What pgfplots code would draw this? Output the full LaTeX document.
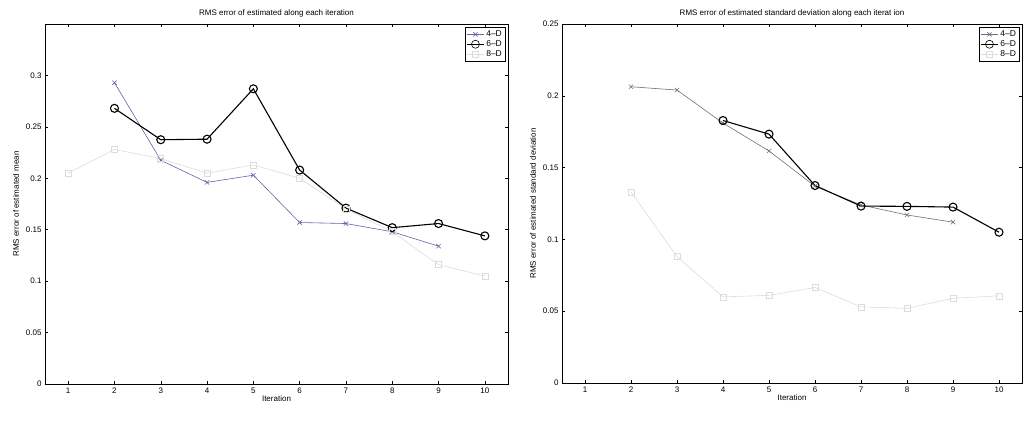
\documentclass[border=0pt]{standalone}
\usepackage{pgfplots}
\pgfplotsset{compat=1.18}
\usepackage{fontspec}
\setmainfont{Liberation Sans}
\definecolor{fourD}{RGB}{100,100,170}
\definecolor{fourDr}{RGB}{110,110,130}
\definecolor{eightD}{RGB}{220,220,220}
\pgfplotsset{
  mystyle/.style={
    scale only axis,
    xmin=0.5, xmax=10.5,
    xtick={1,...,10},
    tick align=inside,
    major tick length=3pt,
    tick style={black, line width=0.5pt},
    axis line style={black, line width=0.6pt},
    /pgf/number format/assume math mode=true,
    ticklabel style={font=\fontsize{8}{9}\selectfont},
    label style={font=\fontsize{8}{9}\selectfont},
    title style={font=\fontsize{8}{9}\selectfont, yshift=-3pt},
    xlabel={Iteration},
    xlabel style={yshift=4pt},
    ylabel style={yshift=0pt},
    legend style={font=\fontsize{8.5}{9}\selectfont, at={(0.995,0.992)}, anchor=north east, draw=black, line width=0.6pt, inner sep=1.5pt, row sep=-1.5pt},
    legend cell align=left,
    legend image post style={line width=0.6pt},
    yticklabel style={/pgf/number format/fixed, /pgf/number format/precision=2},
  }
}
\begin{document}
\begin{tikzpicture}
\useasboundingbox (0,0) rectangle (1024pt,420pt);
\begin{axis}[mystyle,
  at={(45pt,36pt)}, width=463pt, height=360pt,
  ymin=0, ymax=0.35,
  ytick={0,0.05,0.1,0.15,0.2,0.25,0.3},
  title={RMS error of estimated along each iteration},
  ylabel={RMS error of estimated mean},
]
\addplot[color=fourD, line width=0.6pt, mark=x, mark size=3pt] coordinates {
(2,0.293) (3,0.2175) (4,0.196) (5,0.203) (6,0.157) (7,0.156) (8,0.148) (9,0.134)};
\addplot[color=black, line width=1.1pt, mark=o, mark size=4pt] coordinates {
(2,0.268) (3,0.2375) (4,0.238) (5,0.287) (6,0.208) (7,0.171) (8,0.152) (9,0.156) (10,0.144)};
\addplot[color=eightD, line width=0.6pt, mark=square, mark size=3pt] coordinates {
(1,0.205) (2,0.228) (3,0.219) (4,0.205) (5,0.213) (6,0.200) (7,0.170) (8,0.148) (9,0.116) (10,0.105)};
\legend{4--D,6--D,8--D}
\end{axis}
\begin{axis}[mystyle,
  at={(562pt,37pt)}, width=460pt, height=359pt,
  ymin=0, ymax=0.25,
  ytick={0,0.05,0.1,0.15,0.2,0.25},
  title={RMS error of estimated standard deviation along each iterat ion},
  ylabel={RMS error of estimated standard deviation},
]
\addplot[color=fourDr, line width=0.6pt, mark=x, mark size=3pt] coordinates {
(2,0.2063) (3,0.204) (4,0.181) (5,0.1616) (6,0.137) (7,0.124) (8,0.117) (9,0.112)};
\addplot[color=black, line width=1.1pt, mark=o, mark size=4pt] coordinates {
(4,0.1828) (5,0.1733) (6,0.1375) (7,0.1232) (8,0.123) (9,0.1225) (10,0.105)};
\addplot[color=eightD, line width=0.6pt, mark=square, mark size=3pt] coordinates {
(2,0.133) (3,0.088) (4,0.060) (5,0.061) (6,0.0665) (7,0.053) (8,0.052) (9,0.059) (10,0.0607)};
\legend{4--D,6--D,8--D}
\end{axis}
\end{tikzpicture}
\end{document}
